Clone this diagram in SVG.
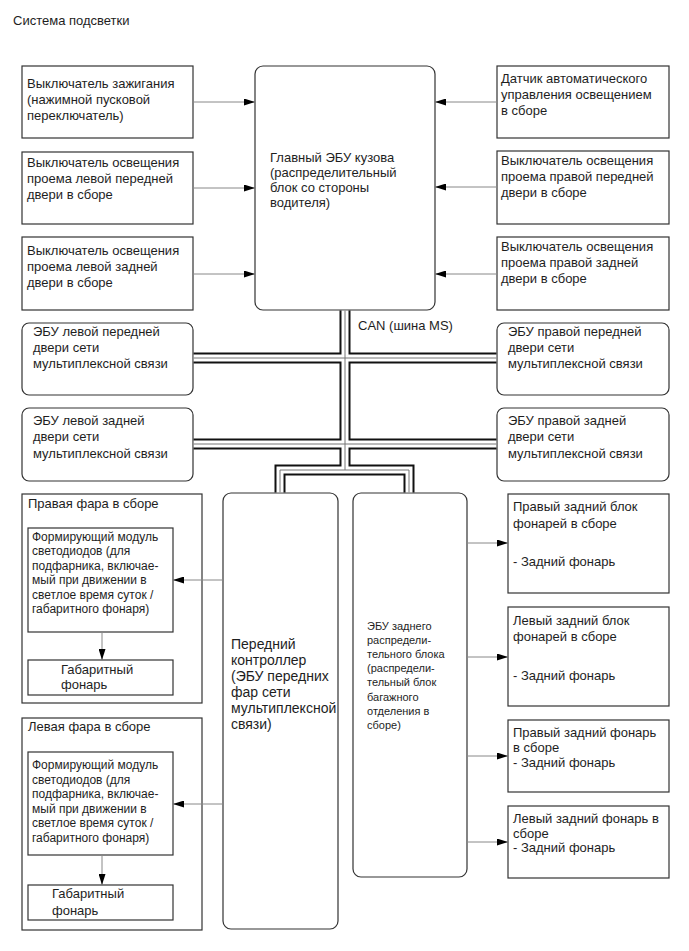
<svg xmlns="http://www.w3.org/2000/svg" width="689" height="951" viewBox="0 0 689 951">
<style>
text{font-family:"Liberation Sans",Arial,sans-serif;font-size:13px;fill:#1e1e1e}
.box{fill:#fff;stroke:#333;stroke-width:1.2}
.conn{stroke:#888;stroke-width:1;fill:none}
.busO{stroke:#111;stroke-width:11;fill:none;stroke-linejoin:miter}
.busW{stroke:#fff;stroke-width:7;fill:none;stroke-linejoin:miter}
.busC{stroke:#777;stroke-width:1;fill:none}
.s11{font-size:11px}
.s12{font-size:12px}
.s14{font-size:14px}
</style>
<defs>
<marker id="ah" markerWidth="11" markerHeight="7" refX="11" refY="3.5" orient="auto" markerUnits="userSpaceOnUse"><path d="M0,0 L11,3.5 L0,7 z" fill="#000"/></marker>
</defs>
<rect width="689" height="951" fill="#fff"/>
<text x="13" y="25">Система подсветки</text>

<g id="ignition">
<rect class="box" x="22" y="66" width="171" height="72"/>
<text x="27" y="87.5">Выключатель зажигания</text>
<text x="27" y="103.5">(нажимной пусковой</text>
<text x="27" y="119.5">переключатель)</text>
</g>
<g id="lf-door-switch">
<rect class="box" x="22" y="152" width="171" height="72"/>
<text x="27" y="166.5">Выключатель освещения</text>
<text x="27" y="182.5">проема левой передней</text>
<text x="27" y="198.5">двери в сборе</text>
</g>
<g id="lr-door-switch">
<rect class="box" x="22" y="237" width="171" height="73"/>
<text x="27" y="254.5">Выключатель освещения</text>
<text x="27" y="270.5">проема левой задней</text>
<text x="27" y="286.5">двери в сборе</text>
</g>
<g id="auto-light-sensor">
<rect class="box" x="497" y="66" width="172" height="72"/>
<text x="501" y="82.5">Датчик автоматического</text>
<text x="501" y="98.5">управления освещением</text>
<text x="501" y="114.5">в сборе</text>
</g>
<g id="rf-door-switch">
<rect class="box" x="497" y="151" width="172" height="73"/>
<text x="501" y="164.5">Выключатель освещения</text>
<text x="501" y="180.5">проема правой передней</text>
<text x="501" y="196.5">двери в сборе</text>
</g>
<g id="rr-door-switch">
<rect class="box" x="497" y="237" width="172" height="73"/>
<text x="501" y="251">Выключатель освещения</text>
<text x="501" y="267">проема правой задней</text>
<text x="501" y="283">двери в сборе</text>
</g>
<g id="main-body-ecu">
<rect class="box" x="255" y="66" width="180" height="244" rx="8"/>
<text x="270" y="161.5">Главный ЭБУ кузова</text>
<text x="270" y="176.5">(распределительный</text>
<text x="270" y="191.5">блок со стороны</text>
<text x="270" y="206.5">водителя)</text>
</g>
<g id="lf-door-ecu">
<rect class="box" x="22" y="323" width="171" height="72" rx="7"/>
<text x="33" y="335.5">ЭБУ левой передней</text>
<text x="33" y="352">двери сети</text>
<text x="33" y="368">мультиплексной связи</text>
</g>
<g id="lr-door-ecu">
<rect class="box" x="22" y="408" width="171" height="73" rx="7"/>
<text x="33" y="425">ЭБУ левой задней</text>
<text x="33" y="441">двери сети</text>
<text x="33" y="457.5">мультиплексной связи</text>
</g>
<g id="rf-door-ecu">
<rect class="box" x="497" y="323" width="172" height="72" rx="7"/>
<text x="508" y="335.5">ЭБУ правой передней</text>
<text x="508" y="352">двери сети</text>
<text x="508" y="368">мультиплексной связи</text>
</g>
<g id="rr-door-ecu">
<rect class="box" x="497" y="408" width="172" height="73" rx="7"/>
<text x="508" y="425">ЭБУ правой задней</text>
<text x="508" y="441">двери сети</text>
<text x="508" y="457.5">мультиплексной связи</text>
</g>
<g id="front-controller">
<rect class="box" x="223" y="493" width="115" height="436" rx="8"/>
<text class="s14" x="231" y="649">Передний</text>
<text class="s14" x="231" y="665">контроллер</text>
<text class="s14" x="231" y="681">(ЭБУ передних</text>
<text class="s14" x="231" y="697">фар сети</text>
<text class="s14" x="231" y="713">мультиплексной</text>
<text class="s14" x="231" y="729">связи)</text>
</g>
<g id="rear-ecu">
<rect class="box" x="353" y="493" width="114" height="384" rx="8"/>
<text class="s11" x="367" y="630">ЭБУ заднего</text>
<text class="s11" x="367" y="644">распредели-</text>
<text class="s11" x="367" y="658">тельного блока</text>
<text class="s11" x="367" y="672">(распредели-</text>
<text class="s11" x="367" y="686">тельный блок</text>
<text class="s11" x="367" y="700.5">багажного</text>
<text class="s11" x="367" y="714.5">отделения в</text>
<text class="s11" x="367" y="729">сборе)</text>
</g>
<g id="right-headlamp">
<rect class="box" x="22" y="494" width="180" height="209"/>
<text x="28" y="508">Правая фара в сборе</text>
<g id="right-led-module">
<rect class="box" x="28" y="528" width="145" height="104"/>
<text class="s12" x="32" y="541">Формирующий модуль</text>
<text class="s12" x="32" y="555.4">светодиодов (для</text>
<text class="s12" x="32" y="569.8">подфарника, включае-</text>
<text class="s12" x="32" y="584.2">мый при движении в</text>
<text class="s12" x="32" y="598.6">светлое время суток /</text>
<text class="s12" x="32" y="613">габаритного фонаря)</text>
</g>
<g id="right-clearance">
<rect class="box" x="28" y="660" width="145" height="35"/>
<text x="61" y="673.8">Габаритный</text>
<text x="61" y="688.5">фонарь</text>
</g>
</g>
<g id="left-headlamp">
<rect class="box" x="22" y="718" width="180" height="212"/>
<text x="28" y="730.5">Левая фара в сборе</text>
<g id="left-led-module">
<rect class="box" x="28" y="752" width="145" height="103"/>
<text class="s12" x="32" y="769">Формирующий модуль</text>
<text class="s12" x="32" y="783.5">светодиодов (для</text>
<text class="s12" x="32" y="798">подфарника, включае-</text>
<text class="s12" x="32" y="812.5">мый при движении в</text>
<text class="s12" x="32" y="827">светлое время суток /</text>
<text class="s12" x="32" y="841.5">габаритного фонаря)</text>
</g>
<g id="left-clearance">
<rect class="box" x="28" y="885" width="145" height="35"/>
<text x="52" y="898">Габаритный</text>
<text x="52" y="914.5">фонарь</text>
</g>
</g>
<g id="rr-combo-lamp">
<rect class="box" x="508" y="494" width="161" height="99"/>
<text x="513" y="511">Правый задний блок</text>
<text x="513" y="528">фонарей в сборе</text>
<text x="513" y="566">- Задний фонарь</text>
</g>
<g id="lr-combo-lamp">
<rect class="box" x="508" y="607" width="161" height="99"/>
<text x="513" y="624.5">Левый задний блок</text>
<text x="513" y="641">фонарей в сборе</text>
<text x="513" y="679.5">- Задний фонарь</text>
</g>
<g id="rr-tail-lamp">
<rect class="box" x="508" y="720" width="161" height="72"/>
<text x="513" y="736.5">Правый задний фонарь</text>
<text x="513" y="752">в сборе</text>
<text x="513" y="767">- Задний фонарь</text>
</g>
<g id="lr-tail-lamp">
<rect class="box" x="508" y="806" width="161" height="72"/>
<text x="513" y="822.5">Левый задний фонарь в</text>
<text x="513" y="837.5">сборе</text>
<text x="513" y="852">- Задний фонарь</text>
</g>

<g id="connectors">
<g id="can-bus">
<path class="busO" d="M345,310.6 V470 M193.6,358 H496.4 M193.6,444 H496.4 M280,492.4 V470 H409 V492.4"/>
<path class="busW" d="M345,310.6 V470 M193.6,358 H496.4 M193.6,444 H496.4 M280,492.4 V470 H409 V492.4"/>
<path class="busC" d="M345,310.6 V470 M193.6,358 H496.4 M193.6,444 H496.4 M280,492.4 V470 H409 V492.4"/>
</g>
<line class="conn" x1="193" y1="102" x2="255" y2="102" marker-end="url(#ah)"/>
<line class="conn" x1="193" y1="188" x2="255" y2="188" marker-end="url(#ah)"/>
<line class="conn" x1="193" y1="274" x2="255" y2="274" marker-end="url(#ah)"/>
<line class="conn" x1="497" y1="102" x2="435" y2="102" marker-end="url(#ah)"/>
<line class="conn" x1="497" y1="187" x2="435" y2="187" marker-end="url(#ah)"/>
<line class="conn" x1="497" y1="274" x2="435" y2="274" marker-end="url(#ah)"/>
<line class="conn" x1="223" y1="580" x2="173" y2="580" marker-end="url(#ah)"/>
<line class="conn" x1="223" y1="804" x2="173" y2="804" marker-end="url(#ah)"/>
<line class="conn" x1="102" y1="632" x2="102" y2="660" marker-end="url(#ah)"/>
<line class="conn" x1="102" y1="855" x2="102" y2="885" marker-end="url(#ah)"/>
<line class="conn" x1="467" y1="543" x2="508" y2="543" marker-end="url(#ah)"/>
<line class="conn" x1="467" y1="657" x2="508" y2="657" marker-end="url(#ah)"/>
<line class="conn" x1="467" y1="756" x2="508" y2="756" marker-end="url(#ah)"/>
<line class="conn" x1="467" y1="842" x2="508" y2="842" marker-end="url(#ah)"/>
</g>
<text x="358" y="329.5">CAN (шина MS)</text>
</svg>
